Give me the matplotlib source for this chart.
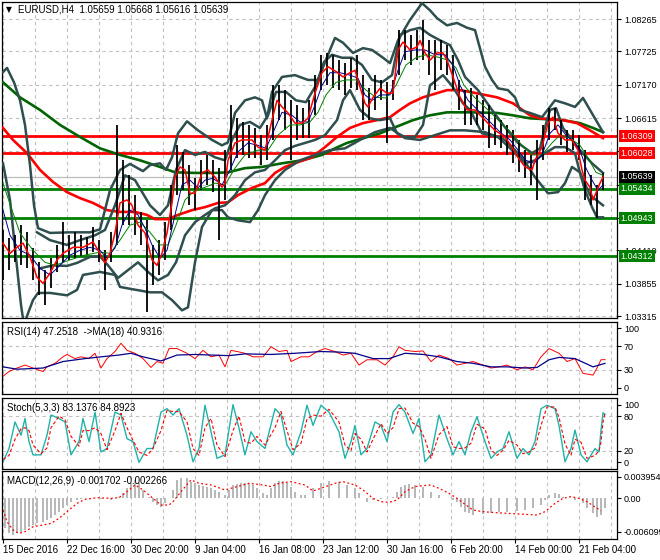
import matplotlib.pyplot as plt
import matplotlib.transforms as mtransforms
import numpy as np

plt.rcParams['font.family'] = ['Liberation Sans', 'DejaVu Sans']

# ---- axis labels -------------------------------------------------------
date_pos = [0, 32, 64, 96, 128, 160, 192, 224, 256, 288]
date_labels = ['15 Dec 2016', '22 Dec 16:00', '30 Dec 20:00', '9 Jan 04:00', '16 Jan 08:00',
               '23 Jan 12:00', '30 Jan 16:00', '6 Feb 20:00', '14 Feb 00:00', '21 Feb 04:00']
price_ticks = [1.08265, 1.07725, 1.07170, 1.06615, 1.06060, 1.05505, 1.04950, 1.04410, 1.03855, 1.03315]
# labels hidden behind the level boxes are left blank
price_labels = ['1.08265', '1.07725', '1.07170', '1.06615', '', '', '', '1.04410', '1.03855', '1.03315']

red_levels = [1.06309, 1.06028]
green_levels = [1.05434, 1.04943, 1.04312]
bid = 1.05639

# ---- price bars (every 3rd H4 bar) --------------------------------------
bar_x = list(range(0, 301, 3))
bar_high = [1.0475, 1.0461, 1.0466, 1.0483, 1.0471, 1.0445, 1.0421, 1.0408, 1.0428, 1.0450,
            1.0488, 1.0466, 1.0471, 1.0466, 1.0463, 1.0480, 1.0458, 1.0441, 1.0471, 1.0650,
            1.0591, 1.0566, 1.0533, 1.0505, 1.0491, 1.0450, 1.0458, 1.0488, 1.0550, 1.0616,
            1.0605, 1.0583, 1.0561, 1.0591, 1.0600, 1.0591, 1.0578, 1.0608, 1.0683, 1.0661,
            1.0655, 1.0650, 1.0645, 1.0633, 1.0650, 1.0716, 1.0716, 1.0708, 1.0691, 1.0683,
            1.0678, 1.0691, 1.0733, 1.0767, 1.0770, 1.0767, 1.0758, 1.0753, 1.0762, 1.0767,
            1.0733, 1.0711, 1.0733, 1.0725, 1.0721, 1.0725, 1.0808, 1.0808, 1.0800, 1.0808,
            1.0825, 1.0791, 1.0791, 1.0791, 1.0783, 1.0767, 1.0725, 1.0708, 1.0711, 1.0700,
            1.0691, 1.0683, 1.0666, 1.0658, 1.0650, 1.0641, 1.0625, 1.0608, 1.0600, 1.0625,
            1.0650, 1.0678, 1.0678, 1.0658, 1.0641, 1.0641, 1.0633, 1.0608, 1.0566, 1.0550,
            1.0570]
bar_low = [1.0391, 1.0408, 1.0421, 1.0416, 1.0411, 1.0391, 1.0366, 1.0350, 1.0378, 1.0405,
           1.0421, 1.0425, 1.0428, 1.0430, 1.0433, 1.0438, 1.0421, 1.0375, 1.0421, 1.0450,
           1.0483, 1.0483, 1.0466, 1.0450, 1.0338, 1.0383, 1.0400, 1.0425, 1.0475, 1.0533,
           1.0541, 1.0516, 1.0508, 1.0541, 1.0550, 1.0538, 1.0458, 1.0525, 1.0575, 1.0595,
           1.0600, 1.0595, 1.0595, 1.0583, 1.0591, 1.0625, 1.0658, 1.0641, 1.0591, 1.0625,
           1.0628, 1.0628, 1.0666, 1.0708, 1.0716, 1.0711, 1.0708, 1.0700, 1.0711, 1.0708,
           1.0658, 1.0658, 1.0675, 1.0691, 1.0620, 1.0691, 1.0733, 1.0758, 1.0750, 1.0758,
           1.0758, 1.0733, 1.0708, 1.0741, 1.0733, 1.0708, 1.0675, 1.0650, 1.0650, 1.0650,
           1.0641, 1.0611, 1.0616, 1.0611, 1.0600, 1.0586, 1.0571, 1.0561, 1.0550, 1.0525,
           1.0591, 1.0625, 1.0641, 1.0616, 1.0605, 1.0608, 1.0591, 1.0525, 1.0516, 1.0495,
           1.0541]

# ---- moving averages -----------------------------------------------------
fast_x = [0, 3.5, 7, 10, 13.5, 17, 20, 23.5, 27, 30, 35, 40, 45, 48.5, 51, 53.5, 56, 58.5, 62, 64.5,
          67.5, 71, 74.5, 77, 79.5, 82, 84.5, 86, 88.5, 91, 93.5, 96, 99.5, 102.5, 106, 109.5, 111,
          112.5, 116, 119.5, 124.5, 127.5, 131, 134.5, 137, 139.5, 142.5, 146, 149.5, 152.5, 156,
          159.5, 162.5, 167, 170, 173.5, 176, 178.5, 181, 182.5, 185, 188.5, 192, 195, 197.5, 200,
          203.5, 207, 208.5, 211, 213.5, 217, 220, 222, 225, 228.5, 232, 236, 241, 246, 251, 254.5,
          257.5, 261, 264.5, 266, 269.5, 272.5, 275, 277.5, 281, 284.5, 287.5, 289.5, 291, 293.5,
          295, 297, 298.5, 300]
fast_ma = [1.0453, 1.0436, 1.0446, 1.0453, 1.0430, 1.0396, 1.0386, 1.0403, 1.0425, 1.0436, 1.0446,
           1.0446, 1.0455, 1.0436, 1.0420, 1.0436, 1.0470, 1.0520, 1.0525, 1.0516, 1.0483, 1.0470,
           1.0425, 1.0416, 1.0436, 1.0470, 1.0520, 1.0563, 1.0580, 1.0575, 1.0536, 1.0536, 1.0570,
           1.0575, 1.0563, 1.0546, 1.0553, 1.0591, 1.0620, 1.0625, 1.0625, 1.0613, 1.0608, 1.0658,
           1.0691, 1.0680, 1.0670, 1.0653, 1.0653, 1.0661, 1.0703, 1.0737, 1.0747, 1.0738, 1.0730,
           1.0737, 1.0741, 1.0713, 1.0686, 1.0680, 1.0696, 1.0711, 1.0703, 1.0703, 1.0775, 1.0788,
           1.0775, 1.0780, 1.0791, 1.0770, 1.0758, 1.0770, 1.0770, 1.0758, 1.0730, 1.0696, 1.0675,
           1.0675, 1.0658, 1.0641, 1.0630, 1.0613, 1.0596, 1.0580, 1.0575, 1.0591, 1.0613, 1.0653,
           1.0663, 1.0636, 1.0625, 1.0625, 1.0608, 1.0575, 1.0558, 1.0546, 1.0525, 1.0541, 1.0553,
           1.0563]

blue_x = [0, 3.5, 8.5, 13.5, 18.5, 23.5, 28.5, 33.5, 38.5, 43.5, 48.5, 52, 56, 59.5, 63.5, 67.5, 71,
          74.5, 78.5, 82, 86, 89.5, 93.5, 97.5, 101, 105, 109.5, 113.5, 117.5, 122.5, 127.5, 131.5,
          135.5, 139.5, 144.5, 148.5, 152.5, 156, 159.5, 163.5, 168.5, 173.5, 177.5, 181, 184.5,
          188.5, 193.5, 197.5, 201, 206, 211, 216, 221, 225, 228.5, 232.5, 238.5, 243.5, 248.5,
          253.5, 257.5, 261.5, 265.5, 269.5, 273.5, 277.5, 281.5, 285.5, 288.5, 291.5, 294.5, 297.5,
          300]
blue_ma = [1.0508, 1.0466, 1.0441, 1.0433, 1.0411, 1.0400, 1.0416, 1.0433, 1.0441, 1.0446, 1.0441,
           1.0428, 1.0445, 1.0483, 1.0508, 1.0500, 1.0478, 1.0450, 1.0428, 1.0441, 1.0500, 1.0550,
           1.0558, 1.0545, 1.0558, 1.0561, 1.0550, 1.0575, 1.0605, 1.0620, 1.0616, 1.0611, 1.0641,
           1.0671, 1.0666, 1.0655, 1.0655, 1.0683, 1.0716, 1.0737, 1.0737, 1.0733, 1.0728, 1.0700,
           1.0691, 1.0700, 1.0700, 1.0741, 1.0772, 1.0775, 1.0775, 1.0767, 1.0767, 1.0750, 1.0716,
           1.0691, 1.0671, 1.0655, 1.0638, 1.0625, 1.0608, 1.0591, 1.0586, 1.0600, 1.0636, 1.0650,
           1.0633, 1.0621, 1.0608, 1.0578, 1.0558, 1.0541, 1.0550]

green_x = [0, 4.5, 8.5, 15, 21, 26, 33.5, 41, 48.5, 53.5, 58.5, 63.5, 68.5, 73.5, 78.5, 82.5, 86.5,
           91, 96, 101, 106, 111, 116, 121, 127.5, 132.5, 137.5, 143.5, 148.5, 153.5, 157.5, 161.5,
           166.5, 171.5, 176.5, 181.5, 186.5, 191.5, 196.5, 201.5, 206.5, 211.5, 217.5, 222.5, 226.5,
           230.5, 236, 242.5, 248.5, 254.5, 259.5, 264.5, 269.5, 274.5, 278.5, 283.5, 288.5, 292.5,
           296.5, 300]
green_ma = [1.0553, 1.0508, 1.0470, 1.0441, 1.0421, 1.0416, 1.0425, 1.0433, 1.0438, 1.0436, 1.0458,
            1.0483, 1.0488, 1.0471, 1.0450, 1.0450, 1.0483, 1.0525, 1.0541, 1.0546, 1.0553, 1.0550,
            1.0578, 1.0600, 1.0608, 1.0608, 1.0633, 1.0650, 1.0650, 1.0655, 1.0671, 1.0700, 1.0721,
            1.0725, 1.0725, 1.0708, 1.0696, 1.0695, 1.0716, 1.0750, 1.0762, 1.0767, 1.0763, 1.0758,
            1.0745, 1.0716, 1.0695, 1.0675, 1.0655, 1.0636, 1.0616, 1.0600, 1.0600, 1.0620, 1.0633,
            1.0628, 1.0616, 1.0595, 1.0571, 1.0566]

slow_red_x = [0, 5, 12, 18.5, 25, 32, 38.5, 45, 52, 58.5, 66, 72, 76, 82.5, 87.5, 94.5, 101, 107.5,
              112.5, 117.5, 124.5, 131, 136, 141, 147.5, 154.5, 161, 167, 173.5, 180, 187, 193.5,
              198.5, 203.5, 210, 217, 222, 228.5, 233.5, 247, 255, 263.5, 268.5, 280, 287, 293.5, 300]
slow_red = [1.0645, 1.0625, 1.0603, 1.0575, 1.0555, 1.0538, 1.0528, 1.0520, 1.0508, 1.0505, 1.0505,
            1.0500, 1.0493, 1.0493, 1.0500, 1.0508, 1.0513, 1.0520, 1.0521, 1.0533, 1.0545, 1.0553,
            1.0570, 1.0580, 1.0588, 1.0596, 1.0613, 1.0630, 1.0645, 1.0653, 1.0658, 1.0663, 1.0675,
            1.0686, 1.0696, 1.0703, 1.0708, 1.0708, 1.0705, 1.0696, 1.0686, 1.0666, 1.0661, 1.0658,
            1.0653, 1.0641, 1.0628]

slow_green_x = [0, 8.5, 18.5, 28.5, 38.5, 48.5, 58.5, 68.5, 78.5, 86, 96, 106, 112.5, 121, 129.5,
                139.5, 149.5, 159.5, 166, 172, 188.5, 205, 213.5, 222, 233.5, 247, 255, 263.5, 280,
                288.5, 295, 300]
slow_green = [1.0721, 1.0696, 1.0675, 1.0650, 1.0630, 1.0611, 1.0600, 1.0591, 1.0580, 1.0571, 1.0570,
              1.0570, 1.0571, 1.0578, 1.0580, 1.0586, 1.0591, 1.0600, 1.0611, 1.0620, 1.0636, 1.0658,
              1.0666, 1.0671, 1.0671, 1.0670, 1.0666, 1.0661, 1.0658, 1.0653, 1.0645, 1.0638]

# ---- bollinger bands -----------------------------------------------------
bb1_up_x = [0, 2, 5.5, 8.5, 11, 13.5, 15.5, 17.5, 23.5, 33.5, 43.5, 48.5, 53.5, 58.5, 63.5, 70, 73.5,
            78.5, 81.5, 84.5, 87.5, 92, 97.5, 104.5, 109.5, 112.5, 116, 121, 126, 129.5, 132, 134.5,
            139.5, 146, 152.5, 157.5, 162.5, 166, 170, 175, 180, 184.5, 190, 193.5, 197.5, 203.5,
            209.5, 213.5, 217, 222, 227, 232, 236, 241, 244.5, 247.5, 252.5, 256, 258.5, 263.5, 269.5,
            276, 281, 286, 290, 293.5, 297, 300]
bb1_up = [1.0738, 1.0745, 1.0721, 1.0691, 1.0650, 1.0583, 1.0516, 1.0478, 1.0470, 1.0471, 1.0471,
          1.0476, 1.0541, 1.0575, 1.0585, 1.0573, 1.0583, 1.0586, 1.0575, 1.0596, 1.0636, 1.0656,
          1.0641, 1.0625, 1.0616, 1.0621, 1.0670, 1.0691, 1.0696, 1.0691, 1.0661, 1.0705, 1.0730,
          1.0733, 1.0725, 1.0725, 1.0767, 1.0795, 1.0787, 1.0770, 1.0778, 1.0775, 1.0762, 1.0753,
          1.0791, 1.0825, 1.0853, 1.0841, 1.0828, 1.0816, 1.0820, 1.0812, 1.0808, 1.0747, 1.0725,
          1.0711, 1.0708, 1.0696, 1.0675, 1.0670, 1.0663, 1.0691, 1.0686, 1.0680, 1.0695, 1.0675,
          1.0655, 1.0638]

bb1_lo_x = [0, 3.5, 7, 9, 10.5, 12.5, 15, 17.5, 23.5, 32, 37, 40, 48.5, 56, 58.5, 65, 73.5, 79.5,
            84.5, 89.5, 92.5, 96, 99.5, 104.5, 109.5, 112.5, 117.5, 123.5, 127.5, 131, 136, 141,
            148.5, 156, 163.5, 171, 178.5, 186, 193.5, 201, 208.5, 216, 223.5, 231, 241, 251, 259.5,
            266, 272.5, 277.5, 281, 284.5, 288.5, 293.5, 300]
bb1_lo = [1.0586, 1.0525, 1.0413, 1.0350, 1.0316, 1.0336, 1.0358, 1.0370, 1.0370, 1.0366, 1.0375,
          1.0400, 1.0405, 1.0400, 1.0380, 1.0376, 1.0371, 1.0371, 1.0358, 1.0341, 1.0346, 1.0421,
          1.0480, 1.0508, 1.0508, 1.0496, 1.0491, 1.0488, 1.0508, 1.0533, 1.0558, 1.0575, 1.0591,
          1.0600, 1.0608, 1.0611, 1.0625, 1.0638, 1.0645, 1.0628, 1.0625, 1.0633, 1.0641, 1.0641,
          1.0638, 1.0625, 1.0596, 1.0563, 1.0536, 1.0538, 1.0553, 1.0580, 1.0571, 1.0533, 1.0516]

bb2_up_x = [17, 23.5, 32, 38.5, 46, 51, 56, 61, 66, 73.5, 78.5, 82.5, 86.5, 91, 96, 101, 106, 111,
            114.5, 118.5, 123.5, 128.5, 132.5, 136.5, 141.5, 146.5, 151.5, 156.5, 160.5, 164.5,
            169.5, 174.5, 179.5, 184.5, 189.5, 194.5, 198.5, 203.5, 208.5, 213.5, 218.5, 223.5,
            227.5, 231, 237.5, 244.5, 251, 257.5, 264.5, 268.5, 271, 273.5, 276.5, 280, 284.5,
            288.5, 294.5, 300]
bb2_up = [1.0471, 1.0458, 1.0450, 1.0458, 1.0466, 1.0475, 1.0516, 1.0566, 1.0558, 1.0516, 1.0500,
          1.0516, 1.0575, 1.0608, 1.0600, 1.0605, 1.0596, 1.0591, 1.0625, 1.0650, 1.0655, 1.0645,
          1.0666, 1.0705, 1.0705, 1.0691, 1.0688, 1.0716, 1.0755, 1.0767, 1.0762, 1.0762, 1.0750,
          1.0725, 1.0721, 1.0733, 1.0800, 1.0808, 1.0812, 1.0800, 1.0791, 1.0783, 1.0758, 1.0730,
          1.0708, 1.0675, 1.0646, 1.0620, 1.0603, 1.0611, 1.0646, 1.0675, 1.0678, 1.0645, 1.0625,
          1.0608, 1.0586, 1.0570]

bb2_lo_x = [18.5, 25, 32, 37, 43.5, 48.5, 52.5, 57.5, 62.5, 67.5, 72.5, 77.5, 82.5, 86.5, 91, 96,
            101, 106, 111, 116, 121, 126, 131, 136, 141, 146, 151, 156, 161, 167, 170, 173.5, 178.5,
            183.5, 188.5, 193.5, 197, 201, 206, 210, 213.5, 220, 225, 230, 233.5, 239.5, 247.5,
            254.5, 261, 266, 271, 276, 281, 286, 288.5, 291, 294.5, 297, 300]
bb2_lo = [1.0411, 1.0416, 1.0415, 1.0420, 1.0430, 1.0431, 1.0416, 1.0395, 1.0408, 1.0421, 1.0405,
          1.0391, 1.0400, 1.0421, 1.0466, 1.0488, 1.0500, 1.0511, 1.0516, 1.0533, 1.0558, 1.0571,
          1.0575, 1.0591, 1.0608, 1.0615, 1.0620, 1.0625, 1.0633, 1.0658, 1.0691, 1.0708, 1.0675,
          1.0661, 1.0658, 1.0661, 1.0636, 1.0630, 1.0630, 1.0650, 1.0716, 1.0733, 1.0713, 1.0686,
          1.0675, 1.0636, 1.0630, 1.0608, 1.0586, 1.0591, 1.0603, 1.0613, 1.0613, 1.0603, 1.0570,
          1.0541, 1.0513, 1.0496, 1.0496]

# ---- RSI(14) and its MA(18) ------------------------------------------------
rsi_x = [0, 3, 7, 11, 15, 20, 22, 26, 30, 32, 36, 39, 43, 46, 49, 52, 56, 59, 62, 66, 70, 74, 77, 80,
         83, 87, 92, 96, 100, 104, 108, 111, 114, 117, 121, 125, 130, 134, 138, 142, 144, 149, 153,
         157, 161, 166, 170, 174, 178, 182, 187, 191, 195, 198, 201, 206, 210, 214, 218, 223, 227,
         231, 235, 240, 244, 248, 252, 257, 261, 265, 269, 273, 278, 282, 286, 290, 295, 297, 299, 301]
rsi = [19, 27, 33, 38, 33, 27, 35, 41, 52, 56, 49, 52, 49, 58, 33, 49, 61, 75, 63, 58, 49, 34, 44, 41,
       66, 66, 58, 49, 63, 52, 55, 35, 63, 61, 58, 52, 52, 69, 61, 63, 44, 52, 52, 61, 66, 61, 55, 58,
       38, 47, 47, 38, 52, 69, 63, 61, 62, 44, 55, 49, 38, 41, 44, 38, 33, 35, 38, 30, 35, 30, 52, 66,
       58, 44, 49, 24, 21, 33, 47, 47.25]
rsi_ma_x = [0, 7, 20, 30, 41, 49, 58, 64, 70, 79, 87, 96, 104, 113, 121, 134, 146, 159, 168, 176, 185,
            193, 201, 210, 218, 227, 235, 244, 252, 261, 267, 273, 278, 286, 295, 299, 301]
rsi_ma = [35, 31, 33, 44, 49, 52, 55, 58, 52, 45, 55, 56, 55, 54, 57, 56, 58, 61, 60, 58, 49, 49, 58,
          56, 52, 44, 41, 35, 35, 33, 34, 47, 51, 49, 35, 39, 40.9]

# ---- Stochastic(5,3,3) -------------------------------------------------------
stoch_x = [0, 3, 6, 9, 11, 13, 15, 19, 22, 24, 28, 31, 34, 38, 40, 43, 46, 49, 52, 56, 59, 62, 65, 68,
           72, 75, 79, 82, 85, 88, 92, 95, 98, 101, 104, 107, 111, 115, 118, 121, 124, 127, 131, 136,
           139, 142, 145, 149, 152, 155, 159, 163, 168, 171, 174, 176, 179, 182, 186, 189, 192, 195,
           198, 201, 205, 208, 211, 214, 218, 222, 225, 228, 231, 234, 237, 241, 244, 247, 250, 253,
           257, 260, 263, 266, 269, 272, 276, 278, 281, 284, 286, 289, 292, 296, 298, 299, 300, 301]
stoch_main = [1, 24, 70, 47, 76, 36, 13, 13, 47, 82, 76, 70, 13, 36, 76, 36, 87, 18, 24, 87, 82, 41,
              36, 0, 24, 24, 87, 93, 82, 93, 47, 1, 24, 99, 53, 7, 13, 100, 59, 13, 53, 36, 24, 93,
              82, 30, 13, 53, 99, 64, 99, 87, 53, 7, 36, 64, 13, 24, 70, 64, 36, 87, 100, 87, 50, 76,
              1, 13, 82, 41, 13, 36, 13, 53, 79, 36, 7, 18, 24, 53, 7, 24, 13, 36, 93, 99, 93, 64, 1,
              24, 56, 13, 1, 24, 18, 55, 86, 83.1]
stoch_sig = [5, 12, 40, 58, 60, 55, 30, 15, 25, 60, 80, 74, 45, 28, 55, 55, 60, 50, 22, 55, 85, 60,
             38, 18, 12, 24, 55, 90, 88, 88, 70, 24, 12, 60, 76, 30, 10, 55, 80, 36, 33, 45, 30, 60,
             88, 55, 22, 33, 75, 82, 80, 92, 70, 30, 20, 50, 40, 18, 47, 67, 50, 60, 93, 94, 68, 62,
             40, 7, 48, 62, 27, 24, 25, 33, 66, 58, 22, 12, 21, 38, 30, 15, 18, 25, 64, 96, 96, 78,
             32, 12, 40, 35, 7, 12, 20, 35, 70, 84.9]

# ---- MACD(12,26,9) -------------------------------------------------------------
macd_x = [1, 3, 5, 7, 9, 11, 13, 15, 17, 20, 22, 24, 26, 28, 30, 32, 34, 37, 39, 41, 43, 45, 49, 54,
          58, 60, 62, 64, 66, 68, 70, 73, 75, 77, 79, 81, 83, 85, 87, 89, 92, 94, 96, 98, 100, 102,
          104, 106, 108, 111, 113, 115, 117, 119, 121, 123, 125, 127, 130, 132, 134, 136, 138, 140,
          142, 144, 146, 149, 151, 155, 159, 163, 168, 172, 176, 178, 180, 182, 185, 189, 193, 195,
          197, 199, 201, 203, 206, 210, 214, 218, 223, 225, 227, 229, 231, 233, 235, 240, 244, 248,
          252, 257, 261, 265, 269, 271, 273, 276, 278, 280, 282, 286, 290, 292, 295, 297, 299, 301]
macd_hist = [-5.49, -6.41, -6.71, -6.41, -6.10, -5.80, -5.19, -4.88, -4.58, -4.27, -3.97, -3.66,
             -3.05, -2.44, -1.83, -1.22, -0.61, -0.31, -0.10, 0.12, 0.05, 0.12, -0.05, -0.31, 0.31,
             0.92, 1.83, 2.75, 3.36, 2.75, 1.53, 0.31, -0.61, -1.22, -1.53, -0.92, 0.05, 1.53, 3.36,
             3.78, 3.78, 3.05, 2.75, 2.44, 2.32, 2.14, 1.83, 1.53, 1.22, 0.61, 1.53, 2.44, 2.56,
             2.75, 2.75, 2.75, 2.44, 1.83, 0.92, 0.61, 1.83, 2.75, 3.17, 3.17, 2.75, 2.14, 1.22,
             0.61, 0.61, 1.83, 2.75, 3.17, 3.05, 2.44, 1.83, 0.92, 0.00, -0.61, -0.31, -0.18, 0.00,
             0.31, 1.22, 2.14, 2.44, 2.56, 2.44, 2.14, 1.22, 0.61, 0.00, -0.31, -0.61, -1.53, -2.44,
             -2.75, -3.05, -2.93, -2.75, -2.44, -2.44, -2.32, -2.14, -1.83, -1.22, -0.31, 0.61,
             0.92, 0.73, 0.31, 0.00, -0.31, -0.92, -1.83, -2.75, -3.36, -3.05, -1.702]
macd_sig_x = [0, 2, 5, 8, 11, 15, 20, 24, 28, 32, 37, 41, 47, 54, 58, 62, 66, 70, 75, 79, 83, 85, 89,
              94, 98, 104, 111, 117, 123, 130, 134, 138, 144, 151, 155, 159, 166, 170, 176, 180, 185,
              189, 193, 197, 201, 206, 210, 214, 218, 223, 227, 231, 235, 240, 244, 252, 261, 267,
              271, 276, 280, 284, 288, 292, 297, 299]
macd_sig = [-2.14, -4.27, -5.80, -6.41, -6.10, -5.19, -4.88, -4.58, -3.66, -2.44, -0.92, -0.18, 0.12,
            0.00, 0.12, 1.22, 2.44, 1.53, 0.00, -1.22, -1.22, -0.61, 1.22, 3.36, 2.75, 2.44, 1.53,
            2.14, 2.75, 2.44, 2.14, 2.75, 3.05, 2.44, 1.34, 1.83, 2.75, 3.05, 2.44, 1.53, 0.00,
            -0.61, -0.73, -0.31, 1.22, 2.14, 2.32, 2.44, 1.83, 0.92, 0.00, -1.10, -2.14, -2.44,
            -2.56, -2.75, -2.93, -3.05, -2.44, -0.92, 0.00, 0.31, 0.00, -0.61, -1.83, -2.266]

# ---- figure ------------------------------------------------------------------
GRAY_BAND = '#2f4f4f'
GRID = '#c0c0c0'
DASH = (0, (3, 3))

fig = plt.figure(figsize=(6.6, 5.6), dpi=100)
ax = fig.add_axes([2 / 660, 242 / 560, 615 / 660, 316 / 560])
ax_rsi = fig.add_axes([2 / 660, 166 / 560, 615 / 660, 72 / 560], sharex=ax)
ax_st = fig.add_axes([2 / 660, 91 / 560, 615 / 660, 71 / 560], sharex=ax)
ax_md = fig.add_axes([2 / 660, 21 / 560, 615 / 660, 68 / 560], sharex=ax)

for a in (ax, ax_rsi, ax_st, ax_md):
    for s in a.spines.values():
        s.set_color('black')
        s.set_linewidth(0.9)
    a.set_xticks(date_pos)
    a.set_xticks(list(range(16, 307, 32)), minor=True)
    a.grid(True, which='both', axis='x', color=GRID, linestyle=DASH, linewidth=0.8)
    a.yaxis.tick_right()
    a.tick_params(axis='y', direction='out', length=3, width=0.8, labelsize=6.5, pad=2)
    a.tick_params(axis='x', which='both', length=0, labelbottom=False)
    a.set_axisbelow(True)
ax.set_xlim(-0.5, 307)

# main price panel
ax.set_ylim(1.03282, 1.08549)
ax.set_yticks(price_ticks)
ax.set_yticklabels(price_labels)
ax.grid(True, axis='y', color=GRID, linestyle=DASH, linewidth=0.8)
ax.axhline(bid, color='#bdbdbd', lw=0.9, zorder=1.5)
for lv in red_levels:
    ax.axhline(lv, color='red', lw=2.0, zorder=2)
for lv in green_levels:
    ax.axhline(lv, color='green', lw=2.0, zorder=2)

ax.plot(slow_green_x, slow_green, color='#006400', lw=1.9, zorder=3)
ax.plot(slow_red_x, slow_red, color='red', lw=1.9, zorder=3)
for xs, ys in ((bb1_up_x, bb1_up), (bb1_lo_x, bb1_lo), (bb2_up_x, bb2_up), (bb2_lo_x, bb2_lo)):
    ax.plot(xs, ys, color=GRAY_BAND, lw=1.8, zorder=3.2)
ax.vlines(bar_x, bar_low, bar_high, color='black', lw=1.3, zorder=4)
ax.plot(green_x, green_ma, color='green', lw=0.7, zorder=5)
ax.plot(blue_x, blue_ma, color='#00008b', lw=0.7, zorder=5)
ax.plot(fast_x, fast_ma, color='red', lw=1.1, zorder=5)

trans = mtransforms.blended_transform_factory(ax.transAxes, ax.transData)
box_levels = [(lv, 'red') for lv in red_levels] + [(lv, 'green') for lv in green_levels] + [(bid, 'black')]
for lv, col in box_levels:
    ax.text(1.006, lv, '%.5f' % lv, transform=trans, va='center', ha='left', fontsize=6.5,
            color='white', clip_on=False, zorder=11 if col == 'black' else 10,
            bbox=dict(boxstyle='square,pad=0.16', fc=col, ec='none'))

ax.text(0.007, 0.975, '\u25bc', transform=ax.transAxes, fontsize=5.5, va='center', ha='left',
        family='DejaVu Sans')
ax.text(0.026, 0.975, 'EURUSD,H4  1.05659 1.05668 1.05616 1.05639', transform=ax.transAxes,
        fontsize=7, va='center', ha='left')

# RSI panel
ax_rsi.set_ylim(-11, 111)
ax_rsi.set_yticks([100, 70, 30, 0])
for lv in (70, 30):
    ax_rsi.axhline(lv, color=GRID, linestyle=DASH, lw=0.8, zorder=1)
ax_rsi.plot(rsi_x, rsi, color='red', lw=0.7)
ax_rsi.plot(rsi_ma_x, rsi_ma, color='#00008b', lw=0.9)
ax_rsi.text(0.008, 0.86, 'RSI(14) 47.2518  ->MA(18) 40.9316', transform=ax_rsi.transAxes,
            fontsize=7, va='center', ha='left')

# Stochastic panel
ax_st.set_ylim(-11.5, 111.5)
ax_st.set_yticks([100, 80, 20, 0])
for lv in (80, 20):
    ax_st.axhline(lv, color=GRID, linestyle=DASH, lw=0.8, zorder=1)
ax_st.plot(stoch_x, stoch_main, color='#20b2aa', lw=1.0)
ax_st.plot(stoch_x, stoch_sig, color='red', lw=0.8, linestyle=(0, (3, 2)))
ax_st.text(0.008, 0.86, 'Stoch(5,3,3) 83.1376 84.8923', transform=ax_st.transAxes,
           fontsize=7, va='center', ha='left')

# MACD panel
ax_md.set_ylim(-0.00744, 0.0050)
ax_md.set_yticks([0.003954, 0.0, -0.006099])
ax_md.set_yticklabels(['0.003954', '0.00', '-0.006099'])
ax_md.bar(macd_x, np.array(macd_hist) * 1e-3, width=0.9, color='#b8b8b8', linewidth=0)
ax_md.plot(macd_sig_x, np.array(macd_sig) * 1e-3, color='red', lw=0.9, linestyle=(0, (1.5, 2)))
ax_md.text(0.008, 0.85, 'MACD(12,26,9) -0.001702 -0.002266', transform=ax_md.transAxes,
           fontsize=7, va='center', ha='left')
ax_md.tick_params(axis='x', which='major', length=3, width=0.8, labelbottom=True, labelsize=7,
                  pad=1.5)
ax_md.set_xticklabels(date_labels)
for lab in ax_md.get_xticklabels():
    lab.set_ha('left')

fig.savefig('out.png', dpi=100)
